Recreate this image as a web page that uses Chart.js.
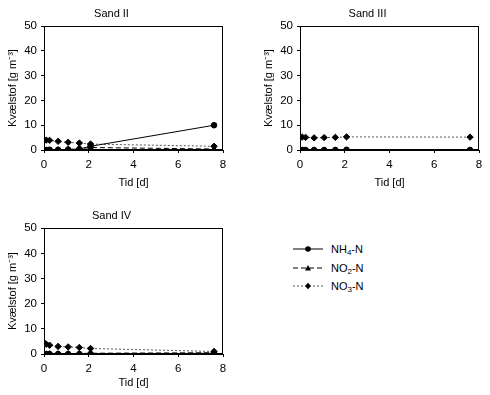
<!DOCTYPE html>
<html>
<head>
<meta charset="utf-8">
<script src="https://cdn.jsdelivr.net/npm/chart.js@4/dist/chart.umd.min.js"></script>
<style>
    body { margin: 0; background: #fff; width: 490px; height: 395px; overflow: hidden; position: relative; font-family: 'Liberation Sans', Arial, sans-serif; }
    .box { position: absolute; }
    .legend { position: absolute; left: 293px; top: 240px; font-size: 11px; color: #000; }
    .legend .row { height: 18.5px; display: flex; align-items: center; }
    .legend svg { margin-right: 6px; }
    .legend sub { font-size: 8px; vertical-align: -2px; line-height: 0; }
</style>
</head>
<body>
<div class="box" style="left:0;top:0;width:240px;height:195px"><canvas id="sand2"></canvas></div>
<div class="box" style="left:256px;top:0;width:234px;height:195px"><canvas id="sand3"></canvas></div>
<div class="box" style="left:0;top:202px;width:240px;height:193px"><canvas id="sand4"></canvas></div>

<div class="legend">
    <div class="row">
        <svg width="32" height="8"><line x1="0" y1="4" x2="30" y2="4" stroke="#000" stroke-width="1"/><circle cx="15" cy="4" r="2.8" fill="#000"/></svg>
        <span>NH<sub>4</sub>-N</span>
    </div>
    <div class="row">
        <svg width="32" height="8"><line x1="0" y1="4" x2="30" y2="4" stroke="#000" stroke-width="1" stroke-dasharray="5,3"/><polygon points="15,1 18,6.5 12,6.5" fill="#000"/></svg>
        <span>NO<sub>2</sub>-N</span>
    </div>
    <div class="row">
        <svg width="32" height="8"><line x1="0" y1="4" x2="30" y2="4" stroke="#555" stroke-width="1" stroke-dasharray="2,2"/><polygon points="15,0.8 18,4 15,7.2 12,4" fill="#000"/></svg>
        <span>NO<sub>3</sub>-N</span>
    </div>
</div>

<script>
// sampling times [d]
const days = [0, 0.1, 0.25, 0.63, 1.08, 1.58, 2.08, 7.6];

// nitrogen [g m-3] per sand column
const sandII_NH4 = [0, 0, 0.1, 0.1, 0.2, 0.4, 1.5, 10];
const sandII_NO2 = [0, 0, 0, 0.1, 0.2, 0.5, 1.0, 0.4];
const sandII_NO3 = [4.0, 4.0, 3.9, 3.5, 3.1, 2.8, 2.4, 1.5];

const sandIII_NH4 = [0, 0, 0, 0, 0, 0, 0.1, 0];
const sandIII_NO2 = [0, 0, 0, 0, 0, 0, 0, 0];
const sandIII_NO3 = [5.1, 5.2, 5.1, 4.9, 5.0, 5.1, 5.3, 5.2];

const sandIV_NH4 = [0, 0, 0, 0, 0, 0, 0, 0.3];
const sandIV_NO2 = [0, 0, 0.1, 0.1, 0.1, 0.2, 0.3, 0.5];
const sandIV_NO3 = [4.6, 3.9, 3.5, 3.0, 2.8, 2.6, 2.2, 1.0];

const xTicks = [0, 2, 4, 6, 8];
const yTicks = [0, 10, 20, 30, 40, 50];

const fontFamily = "'Liberation Sans', Arial, sans-serif";

function points(values) {
    return values.map((v, i) => ({ x: days[i], y: v }));
}

// box around the plot area, like the original
const frame = {
    id: 'frame',
    afterDraw(chart) {
        const a = chart.chartArea;
        const ctx = chart.ctx;
        ctx.save();
        ctx.strokeStyle = '#000';
        ctx.lineWidth = 1;
        ctx.strokeRect(Math.round(a.left) + 0.5, Math.round(a.top) + 0.5, Math.round(a.width) - 1, Math.round(a.height) - 1);
        ctx.restore();
    }
};

function makeChart(id, title, nh4, no2, no3, xAxisHeight, padRight) {
    const ctx = document.getElementById(id).getContext('2d');
    return new Chart(ctx, {
        type: 'scatter',
        data: {
            datasets: [
                {
                    label: 'NH4-N',
                    data: points(nh4),
                    showLine: true,
                    borderColor: '#000',
                    backgroundColor: '#000',
                    borderWidth: 1,
                    pointStyle: 'circle',
                    pointRadius: 2.8
                },
                {
                    label: 'NO2-N',
                    data: points(no2),
                    showLine: true,
                    borderColor: '#000',
                    backgroundColor: '#000',
                    borderWidth: 1,
                    borderDash: [5, 3],
                    pointStyle: 'triangle',
                    pointRadius: 3
                },
                {
                    label: 'NO3-N',
                    data: points(no3),
                    showLine: true,
                    borderColor: '#555',
                    backgroundColor: '#000',
                    pointBorderColor: '#000',
                    borderWidth: 1,
                    borderDash: [2, 2],
                    pointStyle: 'rectRot',
                    pointRadius: 3.2
                }
            ]
        },
        options: {
            responsive: true,
            maintainAspectRatio: false,
            animation: false,
            layout: { padding: { top: 3, right: padRight, bottom: 0, left: 0 } },
            plugins: {
                legend: { display: false },
                tooltip: { enabled: false },
                title: {
                    display: true,
                    text: title,
                    color: '#000',
                    font: { family: fontFamily, size: 11, weight: 'normal' },
                    padding: { top: 4, bottom: 6 }
                }
            },
            scales: {
                x: {
                    type: 'linear',
                    min: 0,
                    max: 8,
                    afterBuildTicks: s => { s.ticks = xTicks.map(v => ({ value: v })); },
                    afterFit: s => { s.height = xAxisHeight; },
                    grid: { drawOnChartArea: false, drawTicks: true, tickLength: 3, color: '#000' },
                    border: { color: '#000', width: 1 },
                    ticks: { color: '#000', padding: 5, font: { family: fontFamily, size: 11.5 } },
                    title: {
                        display: true,
                        text: 'Tid [d]',
                        color: '#000',
                        font: { family: fontFamily, size: 11 },
                        padding: { top: 0, bottom: 5 }
                    }
                },
                y: {
                    min: 0,
                    max: 50,
                    afterBuildTicks: s => { s.ticks = yTicks.map(v => ({ value: v })); },
                    afterFit: s => { s.width = 44; },
                    grid: { drawOnChartArea: false, drawTicks: true, tickLength: 3, color: '#000' },
                    border: { color: '#000', width: 1 },
                    ticks: { color: '#000', padding: 4, font: { family: fontFamily, size: 11.5 } },
                    title: {
                        display: true,
                        text: 'Kvælstof [g m⁻³]',
                        color: '#000',
                        font: { family: fontFamily, size: 11 },
                        padding: { top: 6, bottom: 0 }
                    }
                }
            }
        },
        plugins: [frame]
    });
}

makeChart('sand2', 'Sand II', sandII_NH4, sandII_NO2, sandII_NO3, 45, 17);
makeChart('sand3', 'Sand III', sandIII_NH4, sandIII_NO2, sandIII_NO3, 45, 11);
makeChart('sand4', 'Sand IV', sandIV_NH4, sandIV_NO2, sandIV_NO3, 41, 17);
</script>
</body>
</html>
